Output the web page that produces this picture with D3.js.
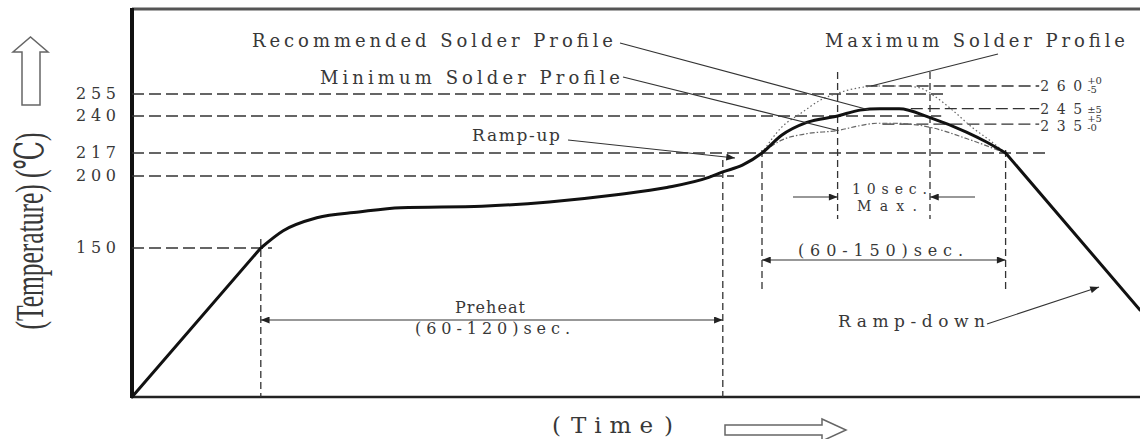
<!DOCTYPE html>
<html>
<head>
<meta charset="utf-8">
<script src="https://cdn.jsdelivr.net/npm/d3@7"></script>
<style>
body { margin: 0; background: #fff; }
text { font-family: "DejaVu Serif", "Liberation Serif", serif; fill: #383838; }
text.times { font-family: "Liberation Serif", "DejaVu Serif", serif; }
</style>
</head>
<body>
<div id="chart"></div>
<script>
var width = 1140;
var height = 439;

// recommended solder profile (time in s, temp in C)
var recTime = [0, 46, 54, 66, 81, 96, 125, 149, 173, 191, 206, 211, 218, 225, 232, 241, 252, 260, 267, 274, 285, 298, 305, 312, 360];
var recTemp = [25, 150, 162, 171, 175, 178, 179, 182, 187, 192, 199, 203, 208, 217, 228, 236, 240, 244, 245, 245, 239, 230, 224, 217, 98];

// maximum profile (dotted)
var maxTime = [225, 232, 239, 246, 252, 260, 267, 274, 281, 287, 293, 300, 307, 312];
var maxTemp = [217, 233, 242, 251, 255.5, 259, 260, 260, 259, 253, 244, 233, 224, 217];

// minimum profile (dash-dot)
var minTime = [225, 232, 241, 252, 260, 266, 272, 285, 298, 312];
var minTemp = [217, 225, 229, 231, 234, 235.5, 235.5, 233, 226, 217];

// temperature ticks on the left
var tickTemps = [150, 200, 217, 240, 255];

// peak temperatures on the right and their tolerances
var peakTemps = [260, 245, 235];
var peakUpper = ["+0", "\u00b15", "+5"];
var peakLower = ["-5", "", "-0"];

// dashed reference lines: temperature, start time, end time
var refTemp = [255, 240, 217, 200, 150, 260, 245, 235];
var refFrom = [0, 0, 0, 0, 0, 262, 266, 268];
var refTo   = [290, 289, 327, 215, 50, 324, 324, 324];

// key times
var t150 = 46, preheatEnd = 211, liqStart = 225, tenStart = 252, tenEnd = 285, liqEnd = 312;

var xScale = d3.scaleLinear().domain([0, 360]).range([132, 1140]);
var yScale = d3.scaleLinear()
    .domain([25, 150, 200, 217, 240, 255, 260])
    .range([397, 248, 176, 153, 116, 94, 86]);

var svg = d3.select("#chart").append("svg")
    .attr("width", width)
    .attr("height", height);

var defs = svg.append("defs");
defs.append("marker")
    .attr("id", "arr")
    .attr("viewBox", "0 0 10 8")
    .attr("refX", 10).attr("refY", 4)
    .attr("markerWidth", 11).attr("markerHeight", 7)
    .attr("markerUnits", "userSpaceOnUse")
    .attr("orient", "auto-start-reverse")
    .append("path")
    .attr("d", "M0,0 L10,4 L0,8 Z")
    .style("fill", "#222");

// frame
svg.append("line")
    .attr("x1", xScale(0)).attr("x2", xScale(360))
    .attr("y1", 9).attr("y2", 9)
    .style("stroke", "#555").style("stroke-width", 3);
svg.append("line")
    .attr("x1", xScale(0)).attr("x2", xScale(360))
    .attr("y1", yScale(25)).attr("y2", yScale(25))
    .style("stroke", "#222").style("stroke-width", 2.5);
svg.append("line")
    .attr("x1", xScale(0)).attr("x2", xScale(0))
    .attr("y1", 8).attr("y2", yScale(25) + 1)
    .style("stroke", "#111").style("stroke-width", 4);

// horizontal dashed lines
svg.selectAll(".hline")
    .data(refTemp)
    .enter()
    .append("line")
    .attr("class", "hline")
    .attr("x1", function(d, i) { return xScale(refFrom[i]); })
    .attr("x2", function(d, i) { return xScale(refTo[i]); })
    .attr("y1", function(d) { return yScale(d); })
    .attr("y2", function(d) { return yScale(d); })
    .style("stroke", "#333")
    .style("stroke-width", 1.3)
    .style("stroke-dasharray", "12,5");

// vertical dashed lines [time, top y, bottom y]
var vlines = [
    [t150, yScale(150) - 9, yScale(25)],
    [preheatEnd, 160, yScale(25)],
    [liqStart, yScale(217) - 3, 292],
    [tenStart, 72, 219],
    [tenEnd, 72, 219],
    [liqEnd, yScale(217) - 3, 292]
];
svg.selectAll(".vline")
    .data(vlines)
    .enter()
    .append("line")
    .attr("class", "vline")
    .attr("x1", function(d) { return xScale(d[0]); })
    .attr("x2", function(d) { return xScale(d[0]); })
    .attr("y1", function(d) { return d[1]; })
    .attr("y2", function(d) { return d[2]; })
    .style("stroke", "#333")
    .style("stroke-width", 1.3)
    .style("stroke-dasharray", "7,4");

// profiles
var line = d3.line()
    .x(function(d) { return xScale(d[0]); })
    .y(function(d) { return yScale(d[1]); });
var smooth = d3.line()
    .x(function(d) { return xScale(d[0]); })
    .y(function(d) { return yScale(d[1]); })
    .curve(d3.curveMonotoneX);

svg.append("path")
    .datum(d3.zip(maxTime, maxTemp))
    .attr("d", smooth)
    .style("fill", "none").style("stroke", "#666")
    .style("stroke-width", 1.2).style("stroke-dasharray", "1.5,2.5");
svg.append("path")
    .datum(d3.zip(minTime, minTemp))
    .attr("d", smooth)
    .style("fill", "none").style("stroke", "#666")
    .style("stroke-width", 1.2).style("stroke-dasharray", "5,2,1.5,2");

var rec = d3.zip(recTime, recTemp);
[rec.slice(0, 2), rec.slice(23)].forEach(function(seg) {
    svg.append("path")
        .datum(seg)
        .attr("d", line)
        .style("fill", "none").style("stroke", "#111")
        .style("stroke-width", 3).style("stroke-linecap", "round");
});
svg.append("path")
    .datum(rec.slice(1, 24))
    .attr("d", smooth)
    .style("fill", "none").style("stroke", "#111")
    .style("stroke-width", 3).style("stroke-linejoin", "round");

// tick labels
svg.selectAll(".tick")
    .data(tickTemps)
    .enter()
    .append("text")
    .attr("class", "tick")
    .attr("x", 76)
    .attr("y", function(d) { return yScale(d) + 5; })
    .attr("textLength", 40)
    .attr("lengthAdjust", "spacing")
    .style("font-size", "16px")
    .text(function(d) { return d; });

// peak labels
var peakG = svg.selectAll(".peak")
    .data(peakTemps)
    .enter()
    .append("g")
    .attr("class", "peak");
peakG.append("text")
    .attr("x", xScale(324) + 1)
    .attr("y", function(d, i) { return yScale(d) + (i === 2 ? 7 : 5); })
    .attr("textLength", 42)
    .attr("lengthAdjust", "spacing")
    .style("font-size", "14px")
    .text(function(d) { return d; });
peakG.append("text")
    .attr("x", xScale(324) + 48)
    .attr("y", function(d, i) { return yScale(d) + (peakLower[i] ? -2 : 4); })
    .style("font-size", "10px")
    .text(function(d, i) { return peakUpper[i]; });
peakG.append("text")
    .attr("x", xScale(324) + 48)
    .attr("y", function(d) { return yScale(d) + 7; })
    .style("font-size", "10px")
    .text(function(d, i) { return peakLower[i]; });

// leaders and dimension arrows
var leaders = [
    [[620, 43], [xScale(263), yScale(245) + 1], false],
    [[623, 77], [xScale(tenStart), yScale(231)], false],
    [[998, 54], [xScale(264), yScale(260)], false],
    [[568, 140], [735, 158], true],
    [[987, 324], [1099, 287], true],
    [[793, 197], [xScale(tenStart), 197], true],
    [[975, 197], [xScale(tenEnd), 197], true]
];
leaders.forEach(function(l) {
    svg.append("line")
        .attr("x1", l[0][0]).attr("y1", l[0][1])
        .attr("x2", l[1][0]).attr("y2", l[1][1])
        .style("stroke", "#333").style("stroke-width", 1.1)
        .attr("marker-end", l[2] ? "url(#arr)" : null);
});
[[t150, preheatEnd, 320], [liqStart, liqEnd, 260]].forEach(function(a) {
    svg.append("line")
        .attr("x1", xScale(a[0])).attr("x2", xScale(a[1]))
        .attr("y1", a[2]).attr("y2", a[2])
        .style("stroke", "#333").style("stroke-width", 1.1)
        .attr("marker-start", "url(#arr)")
        .attr("marker-end", "url(#arr)");
});

// annotation texts
var labels = [
    {text: "Recommended Solder Profile", x: 252, y: 47, w: 361, size: 18},
    {text: "Minimum Solder Profile", x: 320, y: 84, w: 300, size: 18},
    {text: "Maximum Solder Profile", x: 825, y: 47, w: 300, size: 18},
    {text: "Ramp-up", x: 472, y: 141, w: 88, size: 17},
    {text: "10sec.", x: 852, y: 194, w: 75, size: 14},
    {text: "Max.", x: 857, y: 211, w: 60, size: 14},
    {text: "(60-150)sec.", x: 798, y: 256, w: 165, size: 16},
    {text: "Preheat", x: 455, y: 313, w: 70, size: 16},
    {text: "(60-120)sec.", x: 415, y: 334, w: 155, size: 16},
    {text: "Ramp-down", x: 838, y: 327, w: 147, size: 17}
];
svg.selectAll(".lbl")
    .data(labels)
    .enter()
    .append("text")
    .attr("class", "lbl")
    .attr("x", function(d) { return d.x; })
    .attr("y", function(d) { return d.y; })
    .attr("textLength", function(d) { return d.w; })
    .attr("lengthAdjust", "spacing")
    .style("font-size", function(d) { return d.size + "px"; })
    .text(function(d) { return d.text; });

// axis titles
svg.append("text")
    .attr("class", "times")
    .attr("transform", "translate(43,231) rotate(-90)")
    .attr("text-anchor", "middle")
    .attr("textLength", 197)
    .attr("lengthAdjust", "spacingAndGlyphs")
    .style("font-size", "40px")
    .text("(Temperature) (\u2103)");
var timeT = svg.append("text")
    .attr("y", 433)
    .style("font-size", "23px");
timeT.append("tspan").attr("x", 552).text("(");
timeT.append("tspan").attr("x", 571).attr("textLength", 82).attr("lengthAdjust", "spacing").text("Time");
timeT.append("tspan").attr("x", 664).text(")");

// hollow arrows
svg.append("polygon")
    .attr("points", "22,105 22,52 13,52 30.5,37 48,52 40,52 40,105")
    .style("fill", "#fff").style("stroke", "#666").style("stroke-width", 1.5);
svg.append("polygon")
    .attr("points", "725,425 822,425 822,419 846,430 822,441 822,435 725,435")
    .style("fill", "#fff").style("stroke", "#666").style("stroke-width", 1.5);
</script>
</body>
</html>
